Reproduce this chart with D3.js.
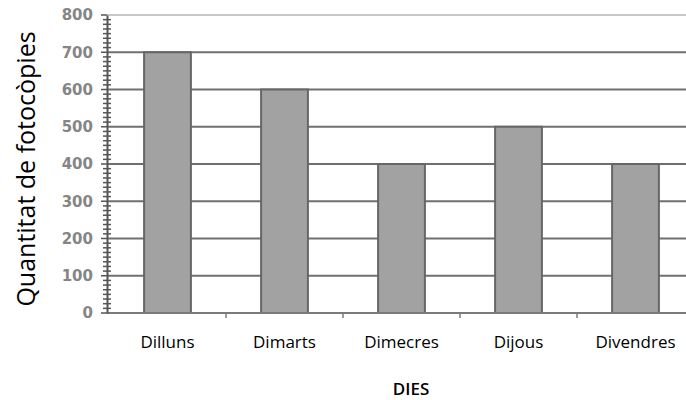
<!DOCTYPE html>
<html lang="ca">
<head>
<meta charset="UTF-8">
<title>Fotocòpies</title>
<script src="https://cdn.jsdelivr.net/npm/d3@7/dist/d3.min.js"></script>
<style>
  body { margin: 0; background: #fff; }
</style>
</head>
<body>
<svg width="686" height="400"></svg>
<script>
// dades
var dies = ["Dilluns", "Dimarts", "Dimecres", "Dijous", "Divendres"];
var fotocopies = [700, 600, 400, 500, 400];
var yTicks = [0, 100, 200, 300, 400, 500, 600, 700, 800];

var svg = d3.select("svg");
var W = +svg.attr("width");

var x = d3.scaleBand().domain(dies).range([109, 694]);
var y = d3.scaleLinear().domain([0, 800]).range([313, 15]);
var barW = x.bandwidth() * 0.4;

// línies de la graella
svg.selectAll(".grid")
  .data(yTicks.filter(function(d) { return d > 0; }))
  .enter().append("line")
  .attr("x1", 107).attr("x2", W)
  .attr("y1", function(d) { return y(d); })
  .attr("y2", function(d) { return y(d); })
  .attr("stroke", function(d) { return d === 800 ? "#c8c8c8" : "#6f6f6f"; })
  .attr("stroke-width", 2);

// barres
svg.selectAll(".bar")
  .data(dies)
  .enter().append("rect")
  .attr("x", function(d) { return x(d) + (x.bandwidth() - barW) / 2; })
  .attr("y", function(d, i) { return y(fotocopies[i]); })
  .attr("width", barW)
  .attr("height", function(d, i) { return y(0) - y(fotocopies[i]); })
  .attr("fill", "#a2a2a2")
  .attr("stroke", "#666")
  .attr("stroke-width", 2);

// eix x
svg.append("line")
  .attr("x1", 107).attr("x2", W)
  .attr("y1", y(0)).attr("y2", y(0))
  .attr("stroke", "#7a7a7a").attr("stroke-width", 2);

svg.selectAll(".xtick")
  .data(dies.slice(1))
  .enter().append("line")
  .attr("x1", function(d) { return x(d); })
  .attr("x2", function(d) { return x(d); })
  .attr("y1", y(0)).attr("y2", y(0) + 5)
  .attr("stroke", "#7a7a7a").attr("stroke-width", 1.5);

svg.selectAll(".xlab")
  .data(dies)
  .enter().append("text")
  .attr("x", function(d) { return x(d) + x.bandwidth() / 2; })
  .attr("y", 348)
  .attr("text-anchor", "middle")
  .attr("font-family", "'Open Sans', sans-serif")
  .attr("font-size", 17)
  .attr("fill", "#000")
  .text(function(d) { return d; });

// eix y amb marques menors
var g = svg.append("g").attr("transform", "translate(107,0)");
var yAxis = d3.axisLeft(y).tickValues(yTicks).tickSize(0).tickPadding(14);
g.call(yAxis);
g.select(".domain").attr("stroke", "#555").attr("stroke-width", 2);
g.selectAll("text")
  .attr("font-family", "'DejaVu Sans', sans-serif")
  .attr("font-weight", "bold")
  .attr("font-size", 15)
  .attr("fill", "#858585");

var minor = d3.range(0, 800.01, 12.5);
g.selectAll(".minor")
  .data(minor)
  .enter().append("line")
  .attr("x1", function(d) { return d % 100 === 0 ? -6 : -4; })
  .attr("x2", function(d) { return d % 100 === 0 ? 0 : 4; })
  .attr("y1", function(d) { return y(d); })
  .attr("y2", function(d) { return y(d); })
  .attr("stroke", "#555")
  .attr("stroke-width", 1.5);

// títols
svg.append("text")
  .attr("transform", "translate(35,169) rotate(-90)")
  .attr("text-anchor", "middle")
  .attr("font-family", "'Open Sans', sans-serif")
  .attr("font-size", 25)
  .attr("fill", "#000")
  .text("Quantitat de fotocòpies");

svg.append("text")
  .attr("x", 411).attr("y", 395)
  .attr("text-anchor", "middle")
  .attr("font-family", "'Open Sans', sans-serif")
  .attr("font-weight", 600)
  .attr("font-size", 17)
  .attr("fill", "#000")
  .text("DIES");
</script>
</body>
</html>
